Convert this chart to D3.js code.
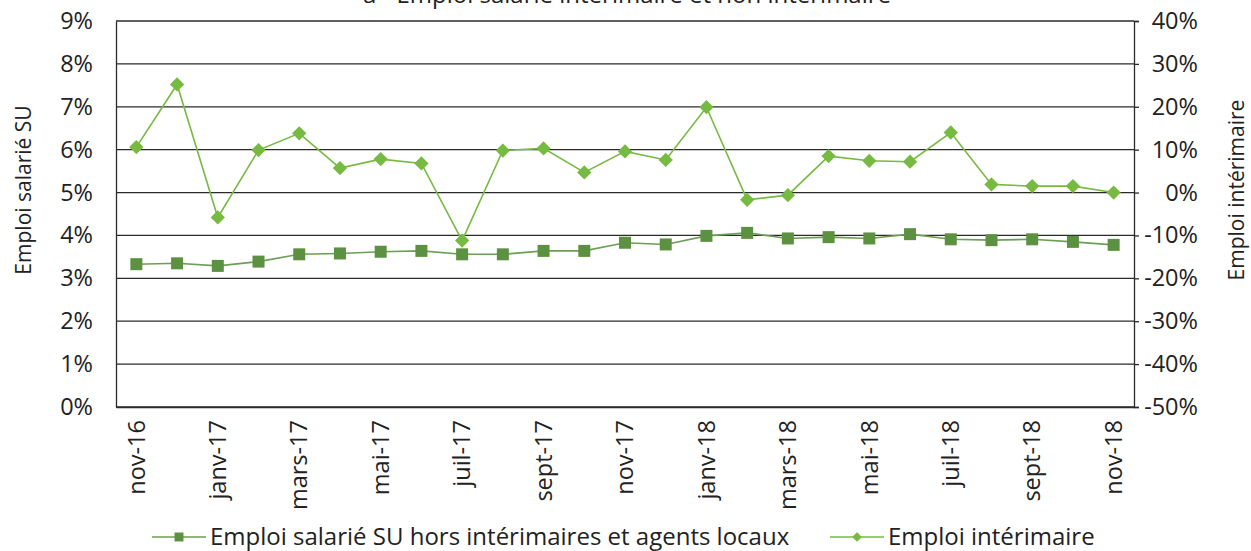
<!DOCTYPE html>
<html>
<head>
<meta charset="utf-8">
<script src="https://cdn.jsdelivr.net/npm/d3@7"></script>
<style>
  body { margin: 0; background: #fff; }
  text { font-family: 'Open Sans', sans-serif; fill: #222; }
</style>
</head>
<body>
<div class="chart"></div>
<script>
'use strict';

const months = ['nov-16', 'déc-16', 'janv-17', 'févr-17', 'mars-17', 'avr-17', 'mai-17', 'juin-17',
  'juil-17', 'août-17', 'sept-17', 'oct-17', 'nov-17', 'déc-17', 'janv-18', 'févr-18', 'mars-18',
  'avr-18', 'mai-18', 'juin-18', 'juil-18', 'août-18', 'sept-18', 'oct-18', 'nov-18'];

// part de l'emploi salarié SU hors intérimaires (axe gauche, %)
const salarie = [3.33, 3.35, 3.29, 3.39, 3.56, 3.58, 3.62, 3.64, 3.56, 3.56, 3.64, 3.64, 3.83,
  3.79, 3.99, 4.06, 3.93, 3.96, 3.93, 4.03, 3.91, 3.89, 3.91, 3.85, 3.78];

// emploi intérimaire (axe droit, %)
const interim = [10.6, 25.2, -5.8, 9.9, 13.8, 5.7, 7.8, 6.8, -11.2, 9.8, 10.3, 4.7, 9.6, 7.6,
  19.9, -1.7, -0.6, 8.5, 7.4, 7.2, 14.0, 1.9, 1.5, 1.5, 0.0];

const leftTicks = [0, 1, 2, 3, 4, 5, 6, 7, 8, 9];
const rightTicks = [-50, -40, -30, -20, -10, 0, 10, 20, 30, 40];

const W = 1251;
const H = 551;
const FS = '23.5px';
const plot = { left: 116, right: 1134, top: 21, bottom: 407 };
const DARK = '#5b9140';
const LIGHT = '#77ba42';

const svg = d3.select('.chart')
  .append('svg')
    .attr('width', W)
    .attr('height', H);

const x = d3.scaleBand()
  .domain(months)
  .range([plot.left, plot.right])
  .padding(0);

const yL = d3.scaleLinear().domain([0, 9]).range([plot.bottom, plot.top]);
const yR = d3.scaleLinear().domain([-50, 40]).range([plot.bottom, plot.top]);

const cx = (i) => x(months[i]) + x.bandwidth() / 2;

// titre (coupé en haut, comme dans l'original)
svg.append('text')
  .attr('x', 627)
  .attr('y', 3)
  .attr('text-anchor', 'middle')
  .attr('font-size', '24px')
  .text('a - Emploi salarié intérimaire et non intérimaire');

// grille
svg.append('g')
  .selectAll('line')
  .data(leftTicks)
  .enter()
  .append('line')
    .attr('x1', plot.left)
    .attr('x2', plot.right)
    .attr('y1', (d) => yL(d))
    .attr('y2', (d) => yL(d))
    .attr('stroke', '#2b2b2b')
    .attr('stroke-width', 1.3);

// axe gauche
const leftAxis = svg.append('g')
  .attr('transform', 'translate(' + plot.left + ',0)')
  .call(d3.axisLeft(yL).tickValues(leftTicks).tickSize(0).tickPadding(23).tickFormat((d) => d + '%'));
leftAxis.select('.domain').attr('stroke', '#2b2b2b').attr('stroke-width', 1.3);
leftAxis.selectAll('text').attr('font-size', FS).attr('font-family', 'Open Sans').attr('fill', '#222');

// axe droit
const rightAxis = svg.append('g')
  .attr('transform', 'translate(' + plot.right + ',0)')
  .call(d3.axisRight(yR).tickValues(rightTicks).tickSize(5).tickPadding(0).tickFormat((d) => d + '%'));
rightAxis.select('.domain').attr('stroke', '#2b2b2b').attr('stroke-width', 1.3);
rightAxis.selectAll('line').attr('stroke', '#2b2b2b').attr('stroke-width', 1.3);
rightAxis.selectAll('text')
  .attr('x', 64)
  .attr('text-anchor', 'end')
  .attr('font-size', FS)
  .attr('font-family', 'Open Sans')
  .attr('fill', '#222');

// axe bas
const bottomAxis = svg.append('g')
  .attr('transform', 'translate(0,' + plot.bottom + ')')
  .call(d3.axisBottom(x).tickValues(months.filter((d, i) => i % 2 === 0)).tickSize(0));
bottomAxis.select('.domain').attr('stroke', '#2b2b2b').attr('stroke-width', 1.3);
bottomAxis.selectAll('text')
  .attr('transform', 'rotate(-90)')
  .attr('x', -13)
  .attr('y', 0)
  .attr('dy', '0.35em')
  .attr('text-anchor', 'end')
  .attr('font-size', FS)
  .attr('font-family', 'Open Sans')
  .attr('fill', '#222');

// titres d'axes
svg.append('text')
  .attr('transform', 'translate(31,190) rotate(-90)')
  .attr('text-anchor', 'middle')
  .attr('font-size', '21px')
  .text('Emploi salarié SU');

svg.append('text')
  .attr('transform', 'translate(1244,190) rotate(-90)')
  .attr('text-anchor', 'middle')
  .attr('font-size', '21px')
  .text('Emploi intérimaire');

// séries
const lineL = d3.line().x((d, i) => cx(i)).y((d) => yL(d));
const lineR = d3.line().x((d, i) => cx(i)).y((d) => yR(d));

svg.append('path')
  .datum(salarie)
  .attr('d', lineL)
  .attr('fill', 'none')
  .attr('stroke', '#6c9f55')
  .attr('stroke-width', 1.6);

svg.append('path')
  .datum(interim)
  .attr('d', lineR)
  .attr('fill', 'none')
  .attr('stroke', LIGHT)
  .attr('stroke-width', 1.6);

const square = d3.symbol().type(d3.symbolSquare).size(144);
const diamond = d3.symbol().type(d3.symbolDiamond2).size(130);

svg.selectAll('.sq')
  .data(salarie)
  .enter()
  .append('path')
    .attr('class', 'sq')
    .attr('d', square)
    .attr('transform', (d, i) => 'translate(' + cx(i) + ',' + yL(d) + ')')
    .attr('fill', DARK);

svg.selectAll('.dm')
  .data(interim)
  .enter()
  .append('path')
    .attr('class', 'dm')
    .attr('d', diamond)
    .attr('transform', (d, i) => 'translate(' + cx(i) + ',' + yR(d) + ')')
    .attr('fill', LIGHT);

// légende
const legendData = [
  { x: 152, color: DARK, lineColor: '#6c9f55', symbol: d3.symbol().type(d3.symbolSquare).size(80), text: 'Emploi salarié SU hors intérimaires et agents locaux' },
  { x: 830, color: LIGHT, lineColor: LIGHT, symbol: d3.symbol().type(d3.symbolDiamond2).size(60), text: 'Emploi intérimaire' }
];

const legend = svg.selectAll('.legend')
  .data(legendData)
  .enter()
  .append('g')
    .attr('class', 'legend')
    .attr('transform', (d) => 'translate(' + d.x + ',537)');

legend.append('line')
  .attr('x1', 0)
  .attr('x2', 54)
  .attr('stroke', (d) => d.lineColor)
  .attr('stroke-width', 1.6);

legend.append('path')
  .attr('d', (d) => d.symbol())
  .attr('transform', 'translate(27,0)')
  .attr('fill', (d) => d.color);

legend.append('text')
  .attr('x', 58)
  .attr('dy', '0.35em')
  .attr('font-size', '24px')
  .text((d) => d.text);
</script>
</body>
</html>
